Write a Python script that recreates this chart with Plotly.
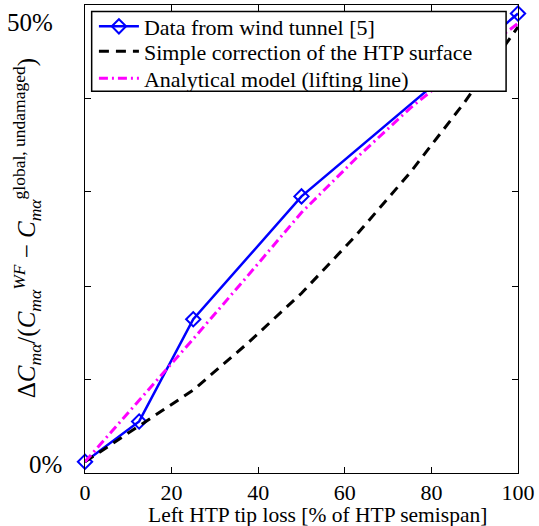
import plotly.graph_objects as go

# tip loss positions [% of HTP semispan]
x_tunnel = [0, 12.5, 25, 50, 100]
y_tunnel = [0, 4.5, 15.9, 29.6, 50.0]

x_simple = [0, 12.5, 25, 37.5, 50, 62.5, 75, 87.5, 100]
y_simple = [0, 4.0, 8.0, 13.2, 18.8, 25.2, 32.2, 40.0, 48.5]

x_model = [0, 12.5, 25, 37.5, 50, 62.5, 75, 87.5, 100]
y_model = [0, 6.8, 13.7, 20.7, 27.8, 33.8, 39.4, 44.3, 48.9]

x_ticks = [0, 20, 40, 60, 80, 100]
y_ticks = [9.2, 19.6, 30.1, 40.5]
y_tick_labels = ["0%", "50%"]

FONT = "'Times New Roman', 'Liberation Serif', serif"
LEG_FONT = dict(family=FONT, size=22, color="black")

fig = go.Figure()
fig.add_trace(go.Scatter(
    x=x_tunnel, y=y_tunnel, mode="lines+markers",
    name="Data from wind tunnel [5]", legend="legend",
    line=dict(color="#0000ff", width=2.5),
    marker=dict(symbol="diamond-open", size=11, color="#0000ff",
                line=dict(width=2, color="#0000ff")),
    cliponaxis=False,
))
fig.add_trace(go.Scatter(
    x=x_simple, y=y_simple, mode="lines",
    name="Simple correction of the HTP surface", legend="legend2",
    line=dict(color="black", width=3, dash="10px,7px"),
))
fig.add_trace(go.Scatter(
    x=x_model, y=y_model, mode="lines",
    name="Analytical model (lifting line)", legend="legend3",
    line=dict(color="#ff00ff", width=3, dash="9px,4px,2px,4px"),
))

axis_common = dict(
    showline=True, linecolor="black", linewidth=1, mirror="allticks",
    ticks="inside", ticklen=6, tickcolor="black", showgrid=False,
    zeroline=False,
)

fig.update_xaxes(range=[0, 100], tickvals=x_ticks,
                 tickfont=dict(family=FONT, size=22, color="black"),
                 **axis_common)
fig.update_yaxes(range=[-1.25, 50.95], tickvals=y_ticks,
                 showticklabels=False, **axis_common)

annotations = [
    dict(text=y_tick_labels[0], x=-0.048, xref="paper", y=-0.26, yref="y",
         xanchor="right", yanchor="middle", showarrow=False,
         font=dict(family=FONT, size=25, color="black")),
    dict(text=y_tick_labels[1], x=-0.069, xref="paper", y=49.0, yref="y",
         xanchor="right", yanchor="middle", showarrow=False,
         font=dict(family=FONT, size=25, color="black")),
    dict(text="Left HTP tip loss [% of HTP semispan]", x=0.537, xref="paper",
         y=-0.09, yref="paper", xanchor="center", yanchor="middle",
         showarrow=False, font=dict(family=FONT, size=21.5, color="black")),
    dict(text=("Δ<i>C</i><sub><i>mα</i></sub>/(<i>C</i><sub><i>mα</i></sub>"
               "<sup><i>WF</i></sup> − <i>C</i><sub><i>mα</i></sub>"
               "<sup>global, undamaged</sup>)"),
         x=-0.135, xref="paper", y=0.522, yref="paper", textangle=-90,
         xanchor="center", yanchor="middle", showarrow=False,
         font=dict(family=FONT, size=25, color="black")),
]

# legend frame drawn as a shape, one borderless legend per row inside it
legend_box = dict(type="rect", xref="paper", yref="paper",
                  x0=0.0154, x1=0.9725, y0=0.8158, y1=0.9862,
                  line=dict(color="black", width=1.5), fillcolor="white",
                  layer="above")


def row_legend(y):
    return dict(x=0.0206, y=y, xanchor="left", yanchor="middle",
                bgcolor="rgba(0,0,0,0)", borderwidth=0, font=LEG_FONT,
                itemwidth=40, visible=True)


fig.update_layout(
    width=539, height=526,
    margin=dict(l=85, r=18, t=4, b=53),
    paper_bgcolor="white", plot_bgcolor="white",
    font=dict(family=FONT, color="black"),
    annotations=annotations,
    shapes=[legend_box],
    showlegend=True,
    legend=row_legend(0.954),
    legend2=row_legend(0.901),
    legend3=row_legend(0.843),
)

# drop the default page margin so the figure sits at the window corner
fig.write_html("out.html", config={"displayModeBar": False},
               post_script="document.body.style.margin = '0';")
